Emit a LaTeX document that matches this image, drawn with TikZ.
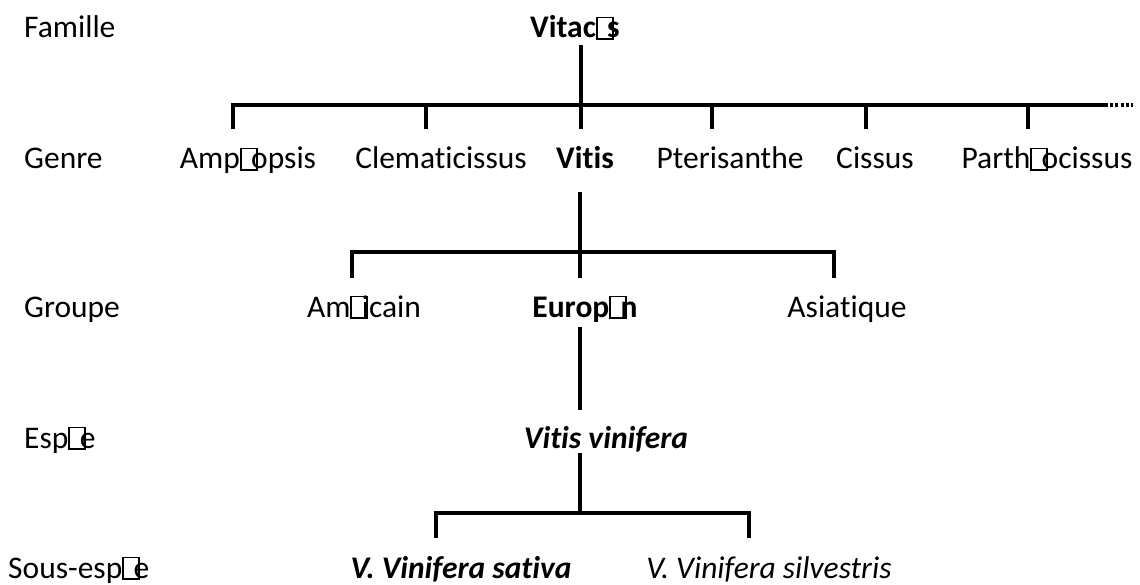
\documentclass[tikz,border=0pt]{standalone}
\usepackage{fontspec}
\setmainfont{Carlito}[Ligatures=NoCommon]
\newcommand{\missglyph}{{\setlength{\fboxsep}{0pt}\setlength{\fboxrule}{0.06em}\fbox{\rule{0pt}{0.62em}\hspace{0.44em}}}\kern-0.2em}
\tikzset{
  lbl/.style={anchor=base west, inner sep=0pt, font=\fontsize{31.5}{38}\selectfont},
  txt/.style={anchor=base, inner sep=0pt, font=\fontsize{31.5}{38}\selectfont},
  btxt/.style={txt, font=\fontsize{31.5}{38}\selectfont\bfseries},
  conn/.style={line width=3.2pt, line cap=butt, line join=miter},
  etc/.style={line width=3.2pt, dash pattern=on 3pt off 2.2pt}
}
\begin{document}
\begin{tikzpicture}[x=1pt,y=-1pt]
\useasboundingbox (0,0) rectangle (1140,585);
% row labels
\node[lbl] (lfam) at (24,38) {Famille};
\node[lbl] (lgen) at (24,169) {Genre};
\node[lbl] (lgrp) at (24,317) {Groupe};
\node[lbl] (lesp) at (24,448) {Esp\missglyph e};
\node[lbl] (lsse) at (8,578) {Sous-esp\missglyph e};
% family
\node[btxt] (vitaceae) at (575,38) {Vitac\missglyph s};
% genres
\node[txt] (ampel) at (248,169) {Amp\missglyph opsis};
\node[txt] (clema) at (441,169) {Clematicissus};
\node[btxt] (vitis) at (585,169) {Vitis};
\node[txt] (pteri) at (730,169) {Pterisanthe};
\node[txt] (cissus) at (875,169) {Cissus};
\node[txt] (parth) at (1047,169) {Parth\missglyph ocissus};
% groups
\node[txt] (ameri) at (364,317) {Am\missglyph icain};
\node[btxt] (europ) at (585,317) {Europ\missglyph n};
\node[txt] (asiat) at (847,317) {Asiatique};
% species
\node[txt, font=\fontsize{31.5}{38}\selectfont\bfseries\itshape] (vinif) at (606,448) {Vitis vinifera};
% subspecies
\node[txt, font=\fontsize{31.5}{38}\selectfont\bfseries\itshape] (sativa) at (461,578) {V. Vinifera sativa};
\node[txt, font=\fontsize{31.5}{38}\selectfont\itshape] (silv) at (769,578) {V. Vinifera silvestris};

% coordinates for the brackets
\coordinate (famTop) at (581,45);
\coordinate (famStem) at (581,129);
\coordinate (busG) at (1105,105);
\coordinate (busGdots) at (1133,105);
\coordinate (tAmp) at (233,129);
\coordinate (tCle) at (426,129);
\coordinate (tPte) at (712,129);
\coordinate (tCis) at (866,129);
\coordinate (tPar) at (1028,129);

\coordinate (vitTop) at (580,192);
\coordinate (vitStem) at (580,278);
\coordinate (tAme) at (352,278);
\coordinate (tAsi) at (834,278);
\coordinate (busV) at (580,252);

\coordinate (eurTop) at (580,327);
\coordinate (eurBot) at (580,410);

\coordinate (vinTop) at (580,453);
\coordinate (tSat) at (436,538);
\coordinate (tSil) at (749,538);
\coordinate (busS) at (580,513);

% family -> genres
\draw[conn] (famTop) -- (famStem);
\draw[conn] (tAmp) |- (busG);
\draw[etc] (busG) -- (busGdots);
\draw[conn] (tCle) -- (tCle |- busG);
\draw[conn] (tPte) -- (tPte |- busG);
\draw[conn] (tCis) -- (tCis |- busG);
\draw[conn] (tPar) -- (tPar |- busG);

% Vitis -> groups
\draw[conn] (vitTop) -- (vitStem);
\draw[conn] (tAme) |- (busV) -| (tAsi);

% Europeen -> Vitis vinifera
\draw[conn] (eurTop) -- (eurBot);

% Vitis vinifera -> subspecies
\draw[conn] (vinTop) -- (busS);
\draw[conn] (tSat) |- (busS) -| (tSil);
\end{tikzpicture}
\end{document}
